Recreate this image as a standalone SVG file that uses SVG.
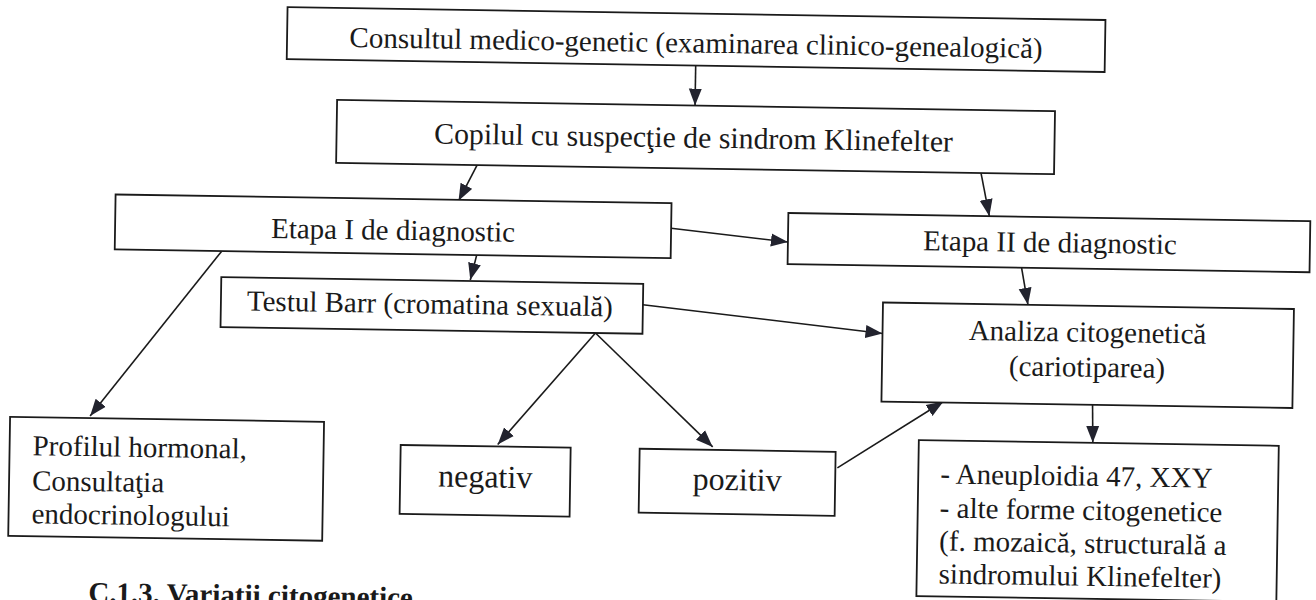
<svg xmlns="http://www.w3.org/2000/svg" width="1316" height="600" viewBox="0 0 1316 600">
  <defs>
    <marker id="arr" markerUnits="userSpaceOnUse" markerWidth="18" markerHeight="14" refX="17" refY="7" orient="auto">
      <path d="M0,0.5 L17,7 L0,13.5 Z" fill="#22232e"/>
    </marker>
  </defs>
  <style>
    .box { fill: #ffffff; stroke: #1a1a1a; stroke-width: 1.8; }
    .t { font-family: "Liberation Serif", "Times New Roman", serif; font-size: 29px; fill: #1a1a1a; }
    .c { text-anchor: middle; }
    .big { font-size: 32px; }
    .cap { font-family: "Liberation Serif", "Times New Roman", serif; font-size: 29px; font-weight: bold; fill: #1a1a1a; }
    .ln { fill: none; stroke: #1a1a1a; stroke-width: 1.6; marker-end: url(#arr); }
  </style>
  <rect x="0" y="0" width="1316" height="600" fill="#ffffff"/>
  <g transform="rotate(0.9 658 300)">
    <g id="connectors">
      <line class="ln" x1="692" y1="65" x2="692" y2="105"/>
      <line class="ln" x1="475" y1="168" x2="457" y2="204"/>
      <line class="ln" x1="979" y1="168" x2="988" y2="211"/>
      <line class="ln" x1="670" y1="228" x2="787" y2="240"/>
      <line class="ln" x1="476" y1="258" x2="470" y2="283"/>
      <line class="ln" x1="221" y1="258" x2="92" y2="425"/>
      <line class="ln" x1="596" y1="334" x2="500" y2="447"/>
      <line class="ln" x1="596" y1="334" x2="715" y2="446"/>
      <line class="ln" x1="643" y1="305" x2="883" y2="330"/>
      <line class="ln" x1="1021" y1="262" x2="1028" y2="299"/>
      <line class="ln" x1="840" y1="465" x2="945" y2="397"/>
      <line class="ln" x1="1094" y1="391" x2="1095" y2="436"/>
    </g>
    <g id="n-consult">
      <rect class="box" x="283" y="13" width="818" height="52"/>
      <text class="t c" x="692" y="52">Consultul medico-genetic (examinarea clinico-genealogică)</text>
    </g>
    <g id="n-copilul">
      <rect class="box" x="334" y="105" width="718" height="63"/>
      <text class="t c" x="691" y="147" style="font-size:29.8px">Copilul cu suspecţie de sindrom Klinefelter</text>
    </g>
    <g id="n-etapa1">
      <rect class="box" x="114" y="203" width="556" height="55"/>
      <text class="t c" x="392" y="244">Etapa I de diagnostic</text>
    </g>
    <g id="n-etapa2">
      <rect class="box" x="787" y="211" width="522" height="51"/>
      <text class="t c" x="1049" y="246">Etapa II de diagnostic</text>
    </g>
    <g id="n-barr">
      <rect class="box" x="221" y="284" width="422" height="50"/>
      <text class="t c" x="430" y="317">Testul Barr (cromatina sexuală)</text>
    </g>
    <g id="n-analiza">
      <rect class="box" x="883" y="299" width="411" height="99"/>
      <text class="t c" x="1088" y="335">Analiza citogenetică</text>
      <text class="t c" x="1088" y="370">(cariotiparea)</text>
    </g>
    <g id="n-profil">
      <rect class="box" x="12" y="427" width="314" height="119"/>
      <text class="t" x="35" y="465">Profilul hormonal,</text>
      <text class="t" x="35" y="500">Consultaţia</text>
      <text class="t" x="35" y="533">endocrinologului</text>
    </g>
    <g id="n-negativ">
      <rect class="box" x="403" y="449" width="170" height="69"/>
      <text class="t c big" x="488" y="490">negativ</text>
    </g>
    <g id="n-pozitiv">
      <rect class="box" x="642" y="449" width="196" height="64"/>
      <text class="t c big" x="740" y="489">pozitiv</text>
    </g>
    <g id="n-aneuploidia">
      <rect class="box" x="921" y="436" width="360" height="156"/>
      <text class="t" x="943" y="479">- Aneuploidia 47, XXY</text>
      <text class="t" x="943" y="513">- alte forme citogenetice</text>
      <text class="t" x="943" y="546">(f. mozaică, structurală a</text>
      <text class="t" x="943" y="579">sindromului Klinefelter)</text>
    </g>
    <text class="cap" x="93" y="611">C.1.3. Variaţii citogenetice</text>
  </g>
</svg>
